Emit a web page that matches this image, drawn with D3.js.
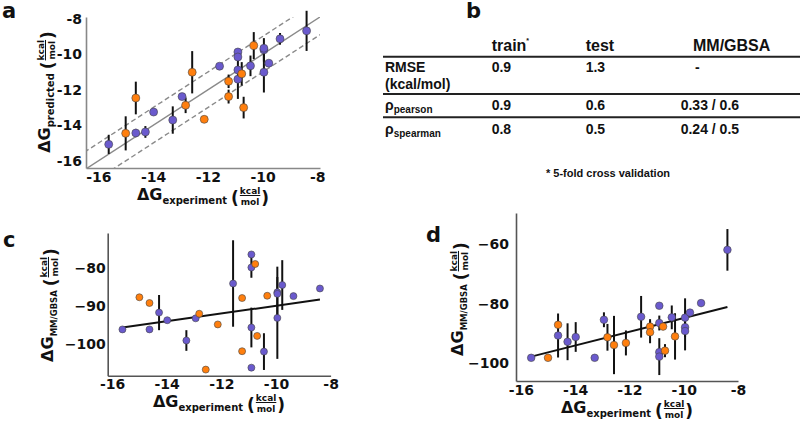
<!DOCTYPE html>
<html><head><meta charset="utf-8">
<script src="https://cdn.jsdelivr.net/npm/d3@7"></script>
<style>body{margin:0;background:#fff;} svg{display:block;font-family:"DejaVu Sans",sans-serif;}</style>
</head><body>
<svg id="chart" width="800" height="421"></svg>
<script>
// ---------- data ----------
const xExp = [-15.62,-15.0,-14.63,-14.63,-14.28,-13.98,-13.28,-12.94,-12.81,-12.57,-12.13,-11.57,-11.24,-11.24,
  -10.9,-10.9,-10.9,-10.9,-10.76,-10.69,-10.44,-10.32,-9.95,-9.95,-9.95,-9.77,-9.36,-8.39];
const group = ["P","O","P","O","P","P","P","P","O","O","O","P","O","O",
  "P","P","P","P","O","O","P","O","P","P","P","P","P","P"];
const predA = [-15.07,-14.45,-14.43,-12.46,-14.37,-13.25,-13.7,-12.38,-12.87,-11.01,-13.66,-10.67,-11.52,-12.38,
  -9.87,-10.15,-10.88,-11.4,-11.1,-13.0,-10.65,-9.51,-9.75,-9.66,-11.01,-10.5,-9.13,-8.68];
const errA = [0.54,0.96,0.23,0.92,0.33,0,0.77,0,0.44,1.19,0,0,0.38,0.39,
  0,0,0,1.11,0.66,0.61,0.58,0.76,0.66,0,1.14,0,0.33,1.13];
const mmgbsaC = [-96.1,-87.7,-96.1,-89.2,-91.7,-93.7,-99.0,-93.2,-92.0,-106.6,-94.8,-84.1,-87.9,-101.8,
  -76.5,-79.9,-95.6,-106.1,-79.0,-97.8,-101.9,-87.3,-86.4,-86.8,-93.1,-84.5,-87.4,-85.4];
const errC = [0,0,0,0,4.6,0,2.7,0,0,0,0,11.3,0,0,
  0,2.7,5.2,0,0,0,4.8,0,6.7,0,10.7,6.5,0,0];
const mmgbsaD = [-98.2,-98.2,-90.7,-87.1,-92.8,-91.2,-98.2,-85.4,-91.3,-93.9,-93.2,-84.4,-87.7,-89.6,
  -80.7,-86.5,-96.3,-97.8,-87.7,-95.8,-84.6,-91.0,-84.7,-87.9,-89.2,-83.0,-79.8,-61.9];
const errD = [0,0,7.4,0,6.2,5.0,0,2.5,4.5,9.8,4.2,7.0,2.5,3.7,
  0,2.5,0,6.2,0,2.2,4.0,7.8,6.5,0,6.5,0,0,7.0];
const fitCEnds = [-95.6,-88.3];   // regression line values at min / max experiment value
const fitDEnds = [-97.8,-81.1];
const xTicks = [-16,-14,-12,-10,-8];
const yTicksA = [-16,-14,-12,-10,-8];
const yTicksC = [-100,-90,-80];
const yTicksD = [-100,-80,-60];
const tableCols = ["train","test","MM/GBSA"];
const rowRMSE = ["0.9","1.3","-"];
const rowPearson = ["0.9","0.6","0.33 / 0.6"];
const rowSpearman = ["0.8","0.5","0.24 / 0.5"];

const colors = {P:"#6a5acd", O:"#ff7f0e"};
const svg = d3.select("#chart");
const hy = d => (d<0?"-":"")+Math.abs(d);
const mn = d => (d<0?"\u2212":"")+Math.abs(d);

function axisLabel(x, y, rot, sub, subSize){
  const g = svg.append("g").attr("transform",`translate(${x},${y}) rotate(${rot})`);
  const inner = g.append("g").attr("font-weight","bold").attr("fill","#111");
  const t = inner.append("text");
  t.append("tspan").attr("font-size",16).text("ΔG");
  t.append("tspan").attr("font-size",subSize).attr("dy",4).text(sub);
  let cx = t.node().getComputedTextLength()+4;
  const p1 = inner.append("text").attr("x",cx).attr("y",4).attr("font-size",17).text("(");
  cx += p1.node().getComputedTextLength()+1;
  const k = inner.append("text").attr("x",cx).attr("y",-6.5).attr("font-size",9).text("kcal");
  const kw = k.node().getComputedTextLength();
  inner.append("text").attr("x",cx+kw/2).attr("y",4.5).attr("text-anchor","middle").attr("font-size",9).text("mol");
  inner.append("line").attr("x1",cx).attr("x2",cx+kw).attr("y1",-4.5).attr("y2",-4.5).attr("stroke","#111").attr("stroke-width",1);
  cx += kw+1;
  const p2 = inner.append("text").attr("x",cx).attr("y",4).attr("font-size",17).text(")");
  cx += p2.node().getComputedTextLength();
  inner.attr("transform",`translate(${-cx/2},0)`);
}

function panel(o){
  const x = d3.scaleLinear().domain(o.xDomain).range(o.xRange);
  const y = d3.scaleLinear().domain(o.yDomain).range(o.yRange);
  const g = svg.append("g");
  if(o.extra) o.extra(g,x,y);
  // error bars
  g.selectAll(".eb").data(xExp.map((d,i)=>i).filter(i=>o.err[i]>0)).join("line")
    .attr("x1",i=>x(xExp[i])).attr("x2",i=>x(xExp[i]))
    .attr("y1",i=>y(o.yv[i]-o.err[i])).attr("y2",i=>y(o.yv[i]+o.err[i]))
    .attr("stroke","#111").attr("stroke-width",2);
  if(o.fit){
    const xe = d3.extent(xExp);
    g.append("line").attr("x1",x(xe[0])).attr("x2",x(xe[1]))
      .attr("y1",y(o.fit[0])).attr("y2",y(o.fit[1]))
      .attr("stroke","#111").attr("stroke-width",2);
  }
  g.selectAll(".dot").data(xExp.map((d,i)=>i)).join("circle")
    .attr("cx",i=>x(xExp[i])).attr("cy",i=>y(o.yv[i])).attr("r",o.r)
    .attr("fill",i=>colors[group[i]]).attr("stroke","#444").attr("stroke-width",0.6);
  // axes
  const ax = g.append("g").attr("transform",`translate(0,${o.yRange[0]})`)
    .call(d3.axisBottom(x).tickValues(xTicks).tickFormat(hy).tickSize(0).tickSizeOuter(0).tickPadding(o.padX));
  const ay = g.append("g").attr("transform",`translate(${o.xRange[0]},0)`)
    .call(d3.axisLeft(y).tickValues(o.yTicks).tickFormat(o.yFmt).tickSize(0).tickSizeOuter(0).tickPadding(o.padY));
  [ax,ay].forEach(a=>{
    a.select(".domain").attr("stroke",o.axisColor).attr("stroke-width",1.6);
    a.selectAll("text").attr("font-size",14).attr("font-weight","bold").attr("fill","#111")
      .attr("font-family","DejaVu Sans");
  });
}

// panel a
panel({xDomain:[-16.45,-7.9], xRange:[86,320], yDomain:[-16.4,-7.9], yRange:[168,17],
  yv:predA, err:errA, r:4, axisColor:"#888", yTicks:yTicksA, yFmt:hy, padX:4, padY:4,
  extra:(g,x,y)=>{
    const cid="clipA";
    g.append("clipPath").attr("id",cid).append("rect").attr("x",86).attr("y",17).attr("width",234).attr("height",151);
    const lg = g.append("g").attr("clip-path",`url(#${cid})`);
    const ends=[-17,-7];
    [[0,null],[1,"5,3"],[-1,"5,3"]].forEach(([off,dash])=>{
      lg.append("line").attr("x1",x(ends[0])).attr("x2",x(ends[1]))
        .attr("y1",y(ends[0]+off)).attr("y2",y(ends[1]+off))
        .attr("stroke","#8a8a8a").attr("stroke-width",1.4).attr("stroke-dasharray",dash);
    });
  }});
axisLabel(203,200,0,"experiment",10);
axisLabel(50,92,-90,"predicted",10);

// panel c
panel({xDomain:[-16.16,-8], xRange:[107.7,330.6], yDomain:[-108.2,-70.9], yRange:[375.7,233],
  yv:mmgbsaC, err:errC, r:3.5, axisColor:"#555", yTicks:yTicksC, yFmt:mn, padX:3, padY:2, fit:fitCEnds});
axisLabel(219,407,0,"experiment",10);
axisLabel(53,305,-90,"MM/GBSA",8.5);

// panel d
panel({xDomain:[-16.18,-8], xRange:[516,738], yDomain:[-106,-49.5], yRange:[381,213],
  yv:mmgbsaD, err:errD, r:3.8, axisColor:"#555", yTicks:yTicksD, yFmt:mn, padX:4, padY:7, fit:fitDEnds});
axisLabel(627,413,0,"experiment",10);
axisLabel(463,299,-90,"MM/GBSA",8.5);

// panel letters
[["a",2,18],["b",466,18],["c",3,247],["d",426,242]].forEach(([t,x,y])=>
  svg.append("text").attr("x",x).attr("y",y).attr("font-size",21).attr("font-weight","bold").attr("fill","#111").text(t));

// table (panel b)
const tb = svg.append("g").attr("font-family","Liberation Sans, Arial, sans-serif").attr("font-weight","bold").attr("fill","#111");
const colX = [491.7,585.7,693];
const valX = [491.7,585.7,680.7];
tableCols.forEach((c,i)=>{
  const t = tb.append("text").attr("x",colX[i]).attr("y",50.5).attr("font-size",16).text(c);
  if(i===0) t.append("tspan").attr("font-size",7).attr("dy",-8).text("*");
});
[56.7,94,117.3].forEach(yy=>tb.append("line").attr("x1",383).attr("x2",800).attr("y1",yy).attr("y2",yy)
  .attr("stroke","#222").attr("stroke-width",2));
tb.append("text").attr("x",385).attr("y",72).attr("font-size",14).text("RMSE");
tb.append("text").attr("x",385).attr("y",88.5).attr("font-size",14).text("(kcal/mol)");
const rp = tb.append("text").attr("x",385).attr("y",109.5).attr("font-size",14);
rp.append("tspan").text("ρ"); rp.append("tspan").attr("font-size",10).attr("dy",3).text("pearson");
const rs = tb.append("text").attr("x",385).attr("y",133.5).attr("font-size",14);
rs.append("tspan").text("ρ"); rs.append("tspan").attr("font-size",10).attr("dy",3).text("spearman");
[[rowRMSE,72],[rowPearson,109.5],[rowSpearman,133.5]].forEach(([row,yy])=>{
  row.forEach((v,i)=>tb.append("text").attr("x",v==="-"?695:valX[i]).attr("y",yy).attr("font-size",14).text(v));
});
tb.append("text").attr("x",546).attr("y",177).attr("font-size",11).text("* 5-fold cross validation");
</script>
</body></html>
